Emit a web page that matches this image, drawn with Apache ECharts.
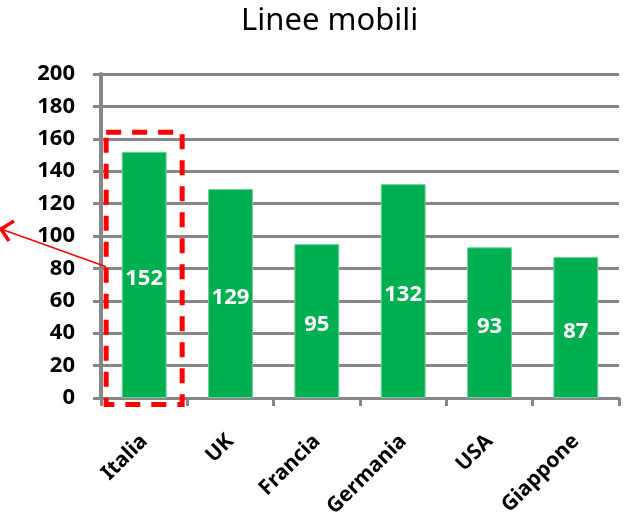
<!DOCTYPE html>
<html>
<head>
<meta charset="utf-8">
<script src="https://cdn.jsdelivr.net/npm/echarts@6/dist/echarts.min.js"></script>
<style>
  html, body { margin: 0; padding: 0; background: #fff; }
  #chart { width: 630px; height: 517px; }
</style>
</head>
<body>
<div id="chart"></div>
<script>
// dati
var titolo = 'Linee mobili';
var paesi = ['Italia', 'UK', 'Francia', 'Germania', 'USA', 'Giappone'];
var linee = [152, 129, 95, 132, 93, 87];
var evidenziato = 'Italia';

var myChart = echarts.init(document.getElementById('chart'));
var grigio = '#878787';

var option = {
  animation: false,
  title: {
    text: titolo,
    left: 236,
    top: 1,
    textStyle: { fontFamily: 'Noto Sans', fontSize: 31, fontWeight: 'normal', color: '#000' }
  },
  grid: { left: 101, right: 11, top: 74, bottom: 119, outerBoundsMode: 'none' },
  xAxis: {
    type: 'category',
    data: paesi,
    axisLine: { lineStyle: { color: grigio, width: 3 } },
    axisTick: { show: true, length: 8, lineStyle: { color: grigio, width: 3 } },
    axisLabel: {
      rotate: 45,
      margin: 40,
      interval: 0,
      color: '#000',
      fontFamily: 'Noto Sans',
      fontWeight: 'bold',
      fontSize: 21
    }
  },
  yAxis: {
    type: 'value',
    min: 0,
    max: 200,
    interval: 20,
    axisLine: { show: true, lineStyle: { color: grigio, width: 4 } },
    axisTick: { show: true, length: 8, lineStyle: { color: grigio, width: 3 } },
    splitLine: { lineStyle: { color: grigio, width: 3 } },
    axisLabel: {
      margin: 26,
      color: '#000',
      fontFamily: 'Noto Sans',
      fontWeight: 'bold',
      fontSize: 22
    }
  },
  series: [{
    type: 'bar',
    data: linee,
    barWidth: '52%',
    itemStyle: { color: '#00B050', borderColor: '#6fd09a', borderWidth: 1 },
    label: {
      show: true,
      position: 'inside',
      offset: [0, 4],
      color: '#fff',
      fontFamily: 'Noto Sans',
      fontWeight: 'bold',
      fontSize: 22
    }
  }]
};

myChart.setOption(option);

// riquadro tratteggiato e freccia intorno alla colonna evidenziata
var cx = myChart.convertToPixel({ xAxisIndex: 0 }, evidenziato);
var yTop = myChart.convertToPixel({ yAxisIndex: 0 }, 164);
var yBot = myChart.convertToPixel({ yAxisIndex: 0 }, -4);
var yFreccia = myChart.convertToPixel({ yAxisIndex: 0 }, 81);
var xl = cx - 38, xr = cx + 38;
var tip = [1, 229];

myChart.setOption({
  graphic: [
    {
      type: 'rect',
      shape: { x: xl, y: yTop, width: xr - xl, height: yBot - yTop },
      style: { fill: 'none', stroke: '#ff0000', lineWidth: 5, lineDash: [15, 11] },
      z: 100
    },
    {
      type: 'line',
      shape: { x1: xl, y1: yFreccia, x2: tip[0], y2: tip[1] },
      style: { stroke: '#ff0000', lineWidth: 1.5 },
      z: 100
    },
    {
      type: 'polyline',
      shape: { points: [[tip[0] + 13, tip[1] - 8], tip, [tip[0] + 8, tip[1] + 12]] },
      style: { stroke: '#ff0000', lineWidth: 3.5, fill: 'none' },
      z: 100
    }
  ]
});
</script>
</body>
</html>
